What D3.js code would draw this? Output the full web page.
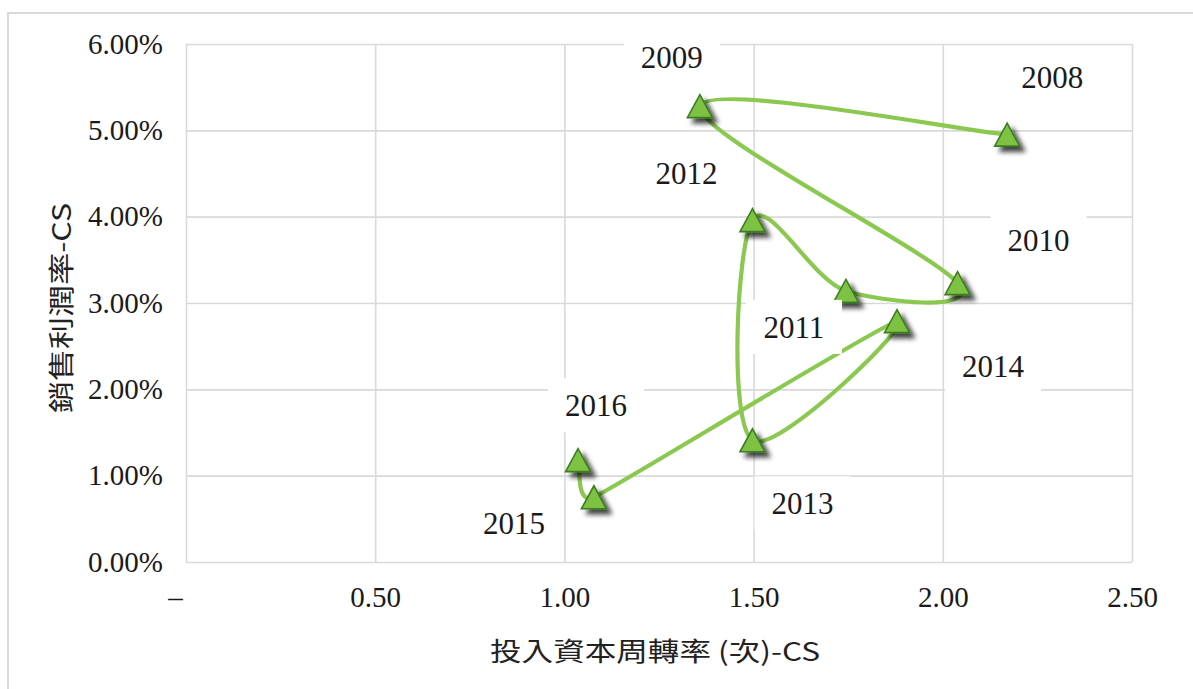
<!DOCTYPE html>
<html>
<head>
<meta charset="utf-8">
<script src="https://cdn.jsdelivr.net/npm/d3@7"></script>
<style>
  html, body { margin: 0; padding: 0; background: #fff; }
  svg { display: block; }
</style>
</head>
<body>
<svg id="chart" width="1193" height="689"></svg>
<script>
// ---- data ----
const years = ["2008", "2009", "2010", "2011", "2012", "2013", "2014", "2015", "2016"];
const turnover = [2.17, 1.358, 2.039, 1.744, 1.497, 1.497, 1.879, 1.078, 1.036];
const profitMargin = [4.95, 5.28, 3.23, 3.14, 3.96, 1.41, 2.79, 0.75, 1.18];
const xTicks = [0, 0.5, 1.0, 1.5, 2.0, 2.5];
const yTicks = [0, 1, 2, 3, 4, 5, 6];
const xTitle = "投入資本周轉率 (次)-CS";
const yTitle = "銷售利潤率-CS";

// ---- layout (label placement offsets in px, relative to the point) ----
const labelOffsets = [[45, -58], [-28, -49], [81, -43], [-52, 36], [-66, -47], [50, 63], [96, 45], [-80, 26], [18, -55]];

const svg = d3.select("#chart");
const plot = { left: 186, right: 1132, top: 44, bottom: 562 };
const x = d3.scaleLinear().domain([0, 2.5]).range([plot.left, plot.right]);
const y = d3.scaleLinear().domain([0, 6]).range([plot.bottom, plot.top]);

const gridColor = "#d9d9d9";
const serif = "'Liberation Serif', 'DejaVu Serif', serif";
const cjk = "'Noto Sans CJK TC', 'Noto Sans CJK SC', sans-serif";

// outer chart frame
svg.append("rect").attr("x", 8).attr("y", 13).attr("width", 1300).attr("height", 800)
  .attr("fill", "#fff").attr("stroke", gridColor).attr("stroke-width", 2);

// shadow filter
const defs = svg.append("defs");
const f = defs.append("filter").attr("id", "shadow").attr("x", "-50%").attr("y", "-50%").attr("width", "200%").attr("height", "200%");
f.append("feGaussianBlur").attr("in", "SourceAlpha").attr("stdDeviation", 2.5).attr("result", "b");
f.append("feOffset").attr("in", "b").attr("dx", 5).attr("dy", 5).attr("result", "o");
f.append("feComponentTransfer").attr("in", "o").attr("result", "s")
  .append("feFuncA").attr("type", "linear").attr("slope", 0.75);
const fm = f.append("feMerge");
fm.append("feMergeNode").attr("in", "s");
fm.append("feMergeNode").attr("in", "SourceGraphic");

// gridlines via axes
const gx = svg.append("g").attr("transform", `translate(0,${plot.bottom})`)
  .call(d3.axisBottom(x).tickValues(xTicks).tickSize(-(plot.bottom - plot.top)).tickPadding(24)
    .tickFormat(d => d === 0 ? "–" : d3.format(".2f")(d)));
gx.select(".domain").remove();
gx.selectAll(".tick line").attr("stroke", gridColor).attr("stroke-width", 1.6);
gx.selectAll(".tick text").attr("font-family", serif).attr("font-size", 29).attr("fill", "#1a1a1a")
  .attr("dy", "0.71em")
  .attr("dx", d => d === 0 ? -11 : 0);

const gy = svg.append("g").attr("transform", `translate(${plot.left},0)`)
  .call(d3.axisLeft(y).tickValues(yTicks).tickSize(-(plot.right - plot.left)).tickPadding(23)
    .tickFormat(d => d3.format(".2f")(d) + "%"));
gy.select(".domain").remove();
gy.selectAll(".tick line").attr("stroke", gridColor).attr("stroke-width", 1.6);
gy.selectAll(".tick text").attr("font-family", serif).attr("font-size", 29).attr("fill", "#1a1a1a");

// axis titles
svg.append("text").attr("x", (plot.left + plot.right) / 2 - 4).attr("y", 661)
  .attr("text-anchor", "middle").attr("font-family", cjk).attr("font-size", 26).attr("fill", "#222")
  .attr("textLength", 330).attr("lengthAdjust", "spacingAndGlyphs").text(xTitle);
svg.append("text").attr("transform", `translate(71,${(plot.top + plot.bottom) / 2 + 5}) rotate(-90)`)
  .attr("text-anchor", "middle").attr("font-family", cjk).attr("font-size", 26).attr("fill", "#222")
  .attr("textLength", 210).attr("lengthAdjust", "spacingAndGlyphs").text(yTitle);

// series
const pts = years.map((yr, i) => ({ yr, x: turnover[i], y: profitMargin[i], off: labelOffsets[i] }));

// spreadsheet-style smoothed line: cubic Bezier, tangent 1/6 of neighbour chord,
// limited to half of the shorter adjacent segment
const P = pts.map(d => [x(d.x), y(d.y)]);
const n = P.length;
const dist = (a, b) => Math.hypot(a[0] - b[0], a[1] - b[1]);
function tangent(i) {
  const a = P[Math.max(i - 1, 0)], b = P[Math.min(i + 1, n - 1)];
  const tx = b[0] - a[0], ty = b[1] - a[1];
  const L = Math.hypot(tx, ty) || 1;
  let len = L / 6;
  const dp = i > 0 ? dist(P[i], P[i - 1]) : Infinity;
  const dn = i < n - 1 ? dist(P[i], P[i + 1]) : Infinity;
  len = Math.min(len, Math.min(dp, dn) / 2);
  return [tx / L * len, ty / L * len];
}
const T = P.map((_, i) => tangent(i));
const path = d3.path();
path.moveTo(P[0][0], P[0][1]);
for (let i = 0; i < n - 1; i++) {
  path.bezierCurveTo(P[i][0] + T[i][0], P[i][1] + T[i][1],
    P[i + 1][0] - T[i + 1][0], P[i + 1][1] - T[i + 1][1],
    P[i + 1][0], P[i + 1][1]);
}
svg.append("path").attr("d", path.toString()).attr("fill", "none")
  .attr("stroke", "#8bc850").attr("stroke-width", 4.2).attr("stroke-linejoin", "round");

// markers
svg.append("g").attr("filter", "url(#shadow)").selectAll("path").data(pts).join("path")
  .attr("transform", d => `translate(${x(d.x)},${y(d.y)})`)
  .attr("d", "M0,-11.5 L12.5,11.5 L-12.5,11.5 Z")
  .attr("fill", "#7dc242").attr("stroke", "#3e7d22").attr("stroke-width", 1.6).attr("stroke-linejoin", "miter");

// data labels with white boxes
const lg = svg.append("g");
const lab = lg.selectAll("g").data(pts).join("g")
  .attr("transform", d => `translate(${x(d.x) + d.off[0]},${y(d.y) + d.off[1]})`);
lab.append("rect").attr("x", -48).attr("y", -27).attr("width", 96).attr("height", 54).attr("fill", "#fff");
lab.append("text").attr("text-anchor", "middle").attr("dy", "0.36em")
  .attr("font-family", serif).attr("font-size", 31).attr("fill", "#1a1a1a").text(d => d.yr);
</script>
</body>
</html>
